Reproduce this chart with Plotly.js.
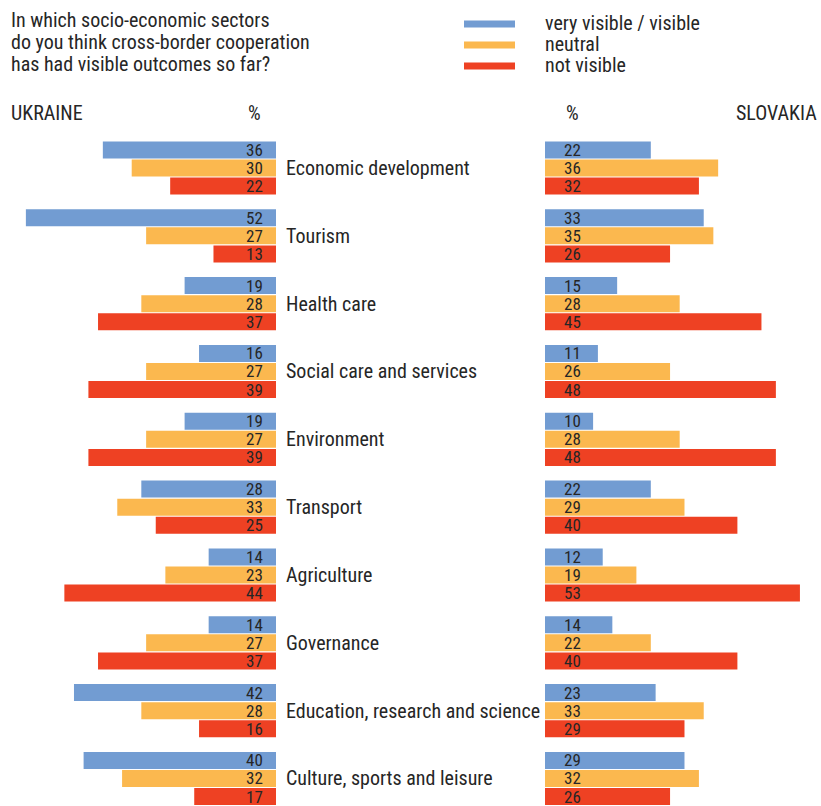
<!DOCTYPE html>
<html>
<head>
<meta charset="utf-8">
<script src="https://cdn.plot.ly/plotly-3.0.1.min.js"></script>
<style>html,body{margin:0;padding:0;background:#fff}#chart{width:821px;height:806px}</style>
</head>
<body>
<div id="chart"></div>
<script>
const categories = ["Economic development","Tourism","Health care","Social care and services","Environment","Transport","Agriculture","Governance","Education, research and science","Culture, sports and leisure"];
const seriesNames = ["very visible / visible","neutral","not visible"];
const ukraineVisible = [36,52,19,16,19,28,14,14,42,40];
const ukraineNeutral = [30,27,28,27,27,33,23,27,28,32];
const ukraineNotVisible = [22,13,37,39,39,25,44,37,16,17];
const slovakiaVisible = [22,33,15,11,10,22,12,14,23,29];
const slovakiaNeutral = [36,35,28,26,28,29,19,22,33,32];
const slovakiaNotVisible = [32,26,45,48,48,40,53,40,29,26];
const titleLines = ["In which socio-economic sectors","do you think cross-border cooperation","has had visible outcomes so far?"];

const colors = ["#729cd2","#fbb84f","#ee4123"];
const FONT = "'Roboto Condensed','Liberation Sans Narrow','DejaVu Sans Condensed','Arial Narrow',Roboto,sans-serif";
const W = 821, H = 806;
const TXT = "#262626";
const LBL = 20;

const ua = [ukraineVisible, ukraineNeutral, ukraineNotVisible];
const sk = [slovakiaVisible, slovakiaNeutral, slovakiaNotVisible];

const traces = [];
ua.forEach((vals,k)=>traces.push({type:'bar',orientation:'h',x:vals,y:categories,xaxis:'x',yaxis:'y',
  marker:{color:colors[k]},name:seriesNames[k],showlegend:false,hoverinfo:'x+y'}));
sk.forEach((vals,k)=>traces.push({type:'bar',orientation:'h',x:vals,y:categories,xaxis:'x2',yaxis:'y',
  marker:{color:colors[k]},name:seriesNames[k],showlegend:false,hoverinfo:'x+y'}));

const annotations = [];
const slot = 0.8/3;
for (let i=0;i<categories.length;i++){
  for (let k=0;k<3;k++){
    const yy = i + (k-1)*slot;
    annotations.push({xref:'x',yref:'y',x:0,y:yy,text:String(ua[k][i]),showarrow:false,borderpad:0,
      xanchor:'right',yanchor:'middle',xshift:-12,font:{family:FONT,size:17,color:TXT}});
    annotations.push({xref:'x2',yref:'y',x:0,y:yy,text:String(sk[k][i]),showarrow:false,borderpad:0,
      xanchor:'left',yanchor:'middle',xshift:18,font:{family:FONT,size:17,color:TXT}});
  }
  annotations.push({xref:'paper',yref:'y',x:284/W,y:i,text:categories[i],showarrow:false,
    xanchor:'left',yanchor:'middle',font:{family:FONT,size:LBL,color:TXT}});
}
titleLines.forEach((t,j)=>annotations.push({xref:'paper',yref:'paper',x:10/W,y:1-(20+22*j)/H,text:t,showarrow:false,borderpad:0,
  xanchor:'left',yanchor:'middle',font:{family:FONT,size:LBL,color:TXT}}));
const legY = [24,45,66];
const shapes = [];
seriesNames.forEach((n,k)=>{
  shapes.push({type:'line',xref:'paper',yref:'paper',x0:464/W,x1:515/W,y0:1-legY[k]/H,y1:1-legY[k]/H,
    line:{color:colors[k],width:7}});
  annotations.push({xref:'paper',yref:'paper',x:544/W,y:1-(legY[k]-1)/H,text:n,showarrow:false,borderpad:0,
    xanchor:'left',yanchor:'middle',font:{family:FONT,size:LBL,color:TXT}});
});
annotations.push({xref:'paper',yref:'paper',x:9/W,y:1-113/H,text:'UKRAINE',showarrow:false,xanchor:'left',yanchor:'middle',font:{family:FONT,size:LBL,color:TXT}});
annotations.push({xref:'paper',yref:'paper',x:263/W,y:1-113/H,text:'%',showarrow:false,xanchor:'right',yanchor:'middle',font:{family:FONT,size:LBL,color:TXT}});
annotations.push({xref:'paper',yref:'paper',x:564/W,y:1-113/H,text:'%',showarrow:false,xanchor:'left',yanchor:'middle',font:{family:FONT,size:LBL,color:TXT}});
annotations.push({xref:'paper',yref:'paper',x:819/W,y:1-113/H,text:'SLOVAKIA',showarrow:false,xanchor:'right',yanchor:'middle',font:{family:FONT,size:LBL,color:TXT}});

const pxPerUnit = 4.81;
const span = 276/pxPerUnit;
const pitch = 67.83;
const topPx = 168 - pitch/2;
const layout = {
  width:W,height:H,margin:{l:0,r:0,t:0,b:0},paper_bgcolor:'#fff',plot_bgcolor:'#fff',
  font:{family:FONT,color:TXT},
  barmode:'group',bargap:0.2,bargroupgap:0.06,
  xaxis:{domain:[0,276/W],range:[span,0],showgrid:false,zeroline:false,showticklabels:false,showline:false,fixedrange:true},
  xaxis2:{domain:[545/W,1],range:[0,span],showgrid:false,zeroline:false,showticklabels:false,showline:false,anchor:'y',fixedrange:true},
  yaxis:{type:'category',domain:[0,1-topPx/H],range:[-0.5+(H-topPx)/pitch,-0.5],showgrid:false,zeroline:false,showticklabels:false,showline:false,fixedrange:true},
  showlegend:false,annotations:annotations,shapes:shapes
};
Plotly.newPlot('chart',traces,layout,{displayModeBar:false,staticPlot:true});
</script>
</body>
</html>
